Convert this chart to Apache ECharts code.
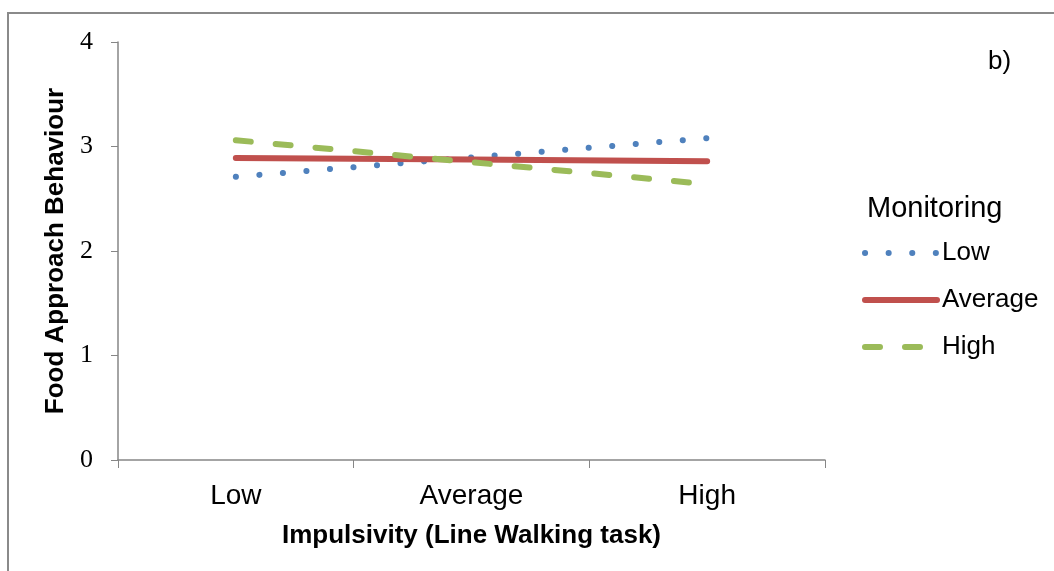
<!DOCTYPE html>
<html>
<head>
<meta charset="utf-8">
<script src="https://cdn.jsdelivr.net/npm/echarts@6/dist/echarts.min.js"></script>
<style>
  html, body { margin: 0; padding: 0; background: #fff; }
  #chart { width: 1054px; height: 571px; }
</style>
</head>
<body>
<div id="chart"></div>
<script>
// impulsivity levels on the x axis
const categories = ['Low', 'Average', 'High'];
// food approach behaviour per monitoring level
const lowMonitoring = [2.71, 2.895, 3.08];
const averageMonitoring = [2.89, 2.875, 2.86];
const highMonitoring = [3.06, 2.85, 2.64];
const yTicks = [0, 1, 2, 3, 4];

const chart = echarts.init(document.getElementById('chart'));

const axisGray = '#868686';
const colors = { low: '#4F81BD', average: '#C0504D', high: '#9BBB59' };

const option = {
  animation: false,
  title: {
    text: 'Monitoring',
    left: 867,
    top: 194,
    padding: 0,
    textStyle: {
      fontFamily: 'Liberation Sans',
      fontWeight: 'normal',
      fontSize: 29,
      color: '#000',
    },
  },
  legend: {
    orient: 'vertical',
    left: 862,
    top: 240,
    padding: 0,
    itemWidth: 72,
    itemHeight: 25,
    itemGap: 21,
    itemStyle: { opacity: 0 },
    data: [
      { name: 'Low', lineStyle: { width: 6, cap: 'round' } },
      { name: 'Average', lineStyle: { width: 6, cap: 'round' } },
      { name: 'High', lineStyle: { width: 6, cap: 'round' } },
    ],
    textStyle: {
      fontFamily: 'Liberation Sans',
      fontSize: 26,
      color: '#000',
      lineHeight: 25,
    },
  },
  graphic: [
    {
      type: 'rect',
      shape: { x: 8, y: 13, width: 1200, height: 700 },
      style: { fill: 'none', stroke: '#8a8a8a', lineWidth: 2 },
      silent: true,
    },
    {
      type: 'text',
      left: 988,
      top: 49,
      style: {
        text: 'b)',
        font: '26px "Liberation Sans"',
        fill: '#000',
      },
    },
  ],
  grid: {
    left: 118,
    top: 42,
    right: 229,
    bottom: 111,
  },
  xAxis: {
    type: 'category',
    data: categories,
    boundaryGap: true,
    name: 'Impulsivity (Line Walking task)',
    nameLocation: 'middle',
    nameGap: 63,
    nameTextStyle: {
      fontFamily: 'Liberation Sans',
      fontWeight: 'bold',
      fontSize: 26,
      color: '#000',
    },
    axisLine: { lineStyle: { color: axisGray, width: 1.5 } },
    axisTick: { show: true, length: 8, interval: 0, lineStyle: { color: axisGray } },
    axisLabel: {
      margin: 22,
      fontFamily: 'Liberation Sans',
      fontSize: 28,
      color: '#000',
    },
    splitLine: { show: false },
  },
  yAxis: {
    type: 'value',
    min: yTicks[0],
    max: yTicks[yTicks.length - 1],
    interval: 1,
    name: 'Food Approach Behaviour',
    nameLocation: 'middle',
    nameGap: 48,
    nameRotate: 90,
    nameTextStyle: {
      fontFamily: 'Liberation Sans',
      fontWeight: 'bold',
      fontSize: 26,
      color: '#000',
    },
    axisLine: { show: true, lineStyle: { color: axisGray, width: 1.5 } },
    axisTick: { show: true, length: 7, lineStyle: { color: axisGray } },
    axisLabel: {
      margin: 25,
      fontFamily: 'Liberation Serif',
      fontSize: 26,
      color: '#000',
    },
    splitLine: { show: false },
  },
  series: [
    {
      name: 'Low',
      type: 'line',
      data: lowMonitoring,
      symbol: 'none',
      color: colors.low,
      lineStyle: { width: 6, color: colors.low, type: [0.1, 23.5], cap: 'round' },
    },
    {
      name: 'Average',
      type: 'line',
      data: averageMonitoring,
      symbol: 'none',
      color: colors.average,
      lineStyle: { width: 6, color: colors.average, cap: 'round' },
    },
    {
      name: 'High',
      type: 'line',
      data: highMonitoring,
      symbol: 'none',
      color: colors.high,
      lineStyle: { width: 6, color: colors.high, type: [15, 25], cap: 'round' },
    },
  ],
};

chart.setOption(option);

window.addEventListener('resize', () => chart.resize());
</script>
</body>
</html>
